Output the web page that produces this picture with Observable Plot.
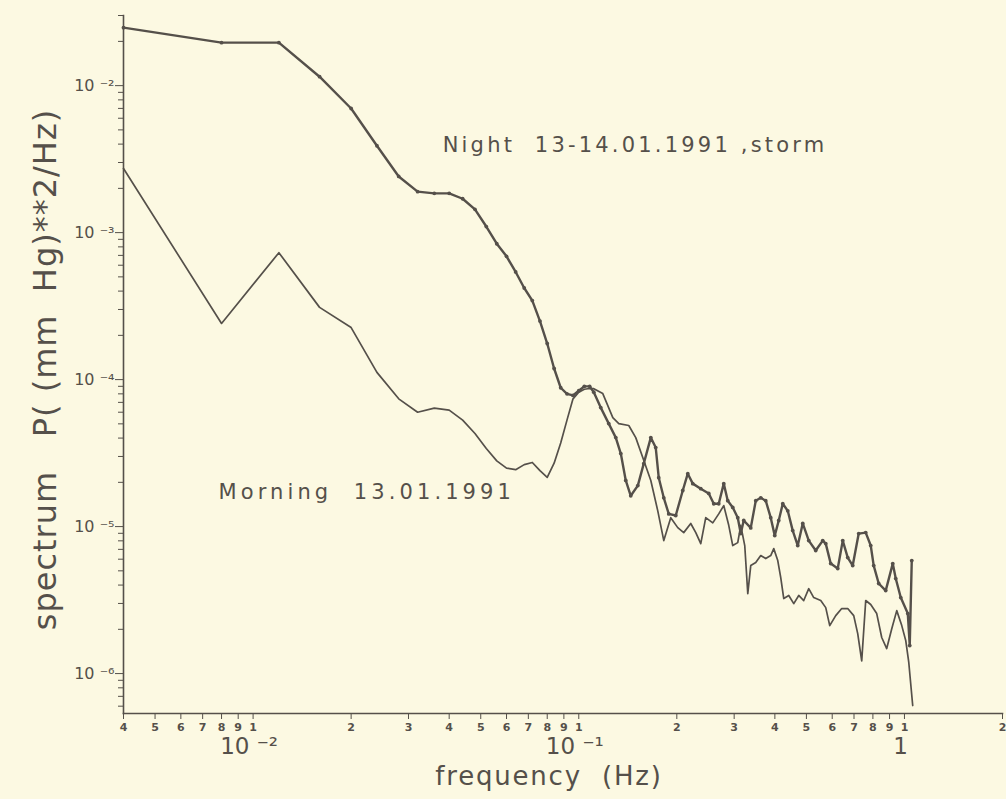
<!DOCTYPE html>
<html><head><meta charset="utf-8">
<script src="https://cdn.jsdelivr.net/npm/d3@7"></script>
<script src="https://cdn.jsdelivr.net/npm/@observablehq/plot@0.6"></script>
<style>
html,body{margin:0;padding:0;background:#fcf9e2;}
svg{display:block;}
svg text{white-space:pre;}
</style></head><body><div id="chart"></div>
<script>
// ---- data (frequency in Hz, spectrum in (mm Hg)^2/Hz) ----
const nightFreq = [
  0.004, 0.008, 0.012, 0.016, 0.020, 0.024, 0.028, 0.032, 0.036, 0.040,
  0.044, 0.048, 0.052, 0.056, 0.060, 0.064, 0.068, 0.072, 0.076, 0.080,
  0.084, 0.088, 0.092, 0.096, 0.100, 0.104, 0.108, 0.1112, 0.1168, 0.1236,
  0.1299, 0.1346, 0.1394, 0.1444, 0.1518, 0.1583, 0.1664, 0.1723, 0.1760, 0.1824,
  0.1889, 0.1985, 0.2086, 0.2161, 0.2239, 0.2369, 0.2507, 0.2597, 0.2690, 0.2787,
  0.2867, 0.2970, 0.3077, 0.3143, 0.3210, 0.3373, 0.3495, 0.3620, 0.3750, 0.3885,
  0.3997, 0.4111, 0.4230, 0.4382, 0.4539, 0.4703, 0.4872, 0.5083, 0.5340, 0.5611,
  0.5732, 0.5938, 0.6239, 0.6464, 0.6696, 0.6936, 0.7237, 0.7604, 0.7878, 0.8046,
  0.8336, 0.8759, 0.9206, 0.9403, 0.9742, 1.024, 1.038, 1.053
];
const nightPower = [
  2.48e-2, 1.96e-2, 1.96e-2, 1.15e-2, 6.99e-3, 3.9e-3, 2.41e-3, 1.9e-3, 1.85e-3, 1.85e-3,
  1.7e-3, 1.44e-3, 1.1e-3, 8.4e-4, 6.9e-4, 5.4e-4, 4.2e-4, 3.45e-4, 2.5e-4, 1.76e-4,
  1.19e-4, 8.8e-5, 8.0e-5, 7.8e-5, 8.4e-5, 9.0e-5, 9.0e-5, 8.2e-5, 6.45e-5, 5.02e-5,
  4.03e-5, 3.14e-5, 2.06e-5, 1.62e-5, 1.90e-5, 2.68e-5, 4.03e-5, 3.45e-5, 2.15e-5, 1.57e-5,
  1.22e-5, 1.19e-5, 1.76e-5, 2.29e-5, 1.96e-5, 1.81e-5, 1.68e-5, 1.43e-5, 1.43e-5, 1.96e-5,
  1.50e-5, 1.35e-5, 1.15e-5, 8.96e-6, 1.10e-5, 9.8e-6, 1.50e-5, 1.57e-5, 1.50e-5, 1.15e-5,
  8.68e-6, 1.10e-5, 1.43e-5, 1.28e-5, 9.39e-6, 7.43e-6, 1.05e-5, 8.03e-6, 6.87e-6, 8.03e-6,
  7.66e-6, 5.60e-6, 5.18e-6, 8.03e-6, 6.15e-6, 5.43e-6, 8.96e-6, 9.10e-6, 7.43e-6, 5.43e-6,
  4.10e-6, 3.67e-6, 5.60e-6, 4.43e-6, 3.29e-6, 2.56e-6, 1.55e-6, 5.87e-6
];
const morningFreq = [
  0.004, 0.008, 0.012, 0.016, 0.020, 0.024, 0.028, 0.032, 0.036, 0.040,
  0.044, 0.048, 0.052, 0.056, 0.060, 0.064, 0.068, 0.072, 0.076, 0.080,
  0.084, 0.088, 0.092, 0.096, 0.100, 0.104, 0.108, 0.1112, 0.1185, 0.1272,
  0.1327, 0.1424, 0.1496, 0.1572, 0.1664, 0.1748, 0.1824, 0.1916, 0.2013, 0.2100,
  0.2207, 0.2287, 0.2369, 0.2454, 0.2579, 0.2690, 0.2787, 0.2887, 0.2970, 0.3077,
  0.3143, 0.3233, 0.3303, 0.3373, 0.3495, 0.3620, 0.3750, 0.3885, 0.3969, 0.4083,
  0.4170, 0.4260, 0.4413, 0.4572, 0.4736, 0.4906, 0.5083, 0.5265, 0.5533, 0.5732,
  0.5896, 0.6151, 0.6418, 0.6696, 0.6986, 0.7186, 0.7392, 0.7604, 0.7878, 0.8219,
  0.8515, 0.8821, 0.9141, 0.9470, 0.9811, 1.009, 1.031, 1.060
];
const morningPower = [
  2.73e-3, 2.41e-4, 7.3e-4, 3.1e-4, 2.26e-4, 1.12e-4, 7.4e-5, 6.0e-5, 6.4e-5, 6.2e-5,
  5.3e-5, 4.3e-5, 3.4e-5, 2.8e-5, 2.5e-5, 2.44e-5, 2.64e-5, 2.73e-5, 2.4e-5, 2.16e-5,
  2.7e-5, 3.7e-5, 5.3e-5, 7.4e-5, 8.2e-5, 8.6e-5, 8.7e-5, 8.68e-5, 8.03e-5, 5.51e-5,
  5.02e-5, 4.87e-5, 4.03e-5, 2.95e-5, 2.06e-5, 1.28e-5, 8.03e-6, 1.15e-5, 9.84e-6, 9.10e-6,
  1.05e-5, 9.10e-6, 7.66e-6, 1.15e-5, 1.06e-5, 1.22e-5, 1.39e-5, 1.02e-5, 7.43e-6, 7.78e-6,
  1.02e-5, 7.43e-6, 3.50e-6, 5.43e-6, 5.69e-6, 6.35e-6, 6.06e-6, 6.35e-6, 7.08e-6, 5.87e-6,
  4.50e-6, 3.24e-6, 3.40e-6, 2.99e-6, 3.40e-6, 3.14e-6, 3.78e-6, 3.29e-6, 3.14e-6, 2.81e-6,
  2.12e-6, 2.48e-6, 2.77e-6, 2.77e-6, 2.48e-6, 1.87e-6, 1.22e-6, 3.14e-6, 2.95e-6, 2.56e-6,
  1.76e-6, 1.48e-6, 2.02e-6, 2.68e-6, 2.12e-6, 1.68e-6, 1.19e-6, 6.06e-7
];

// ---- axes / ticks ----
const xDomain = [0.004, 2];
const yDomain = [5.35e-7, 0.03];
const xTicks = [0.004,0.005,0.006,0.007,0.008,0.009,0.01,0.02,0.03,0.04,0.05,0.06,0.07,0.08,0.09,
                0.1,0.2,0.3,0.4,0.5,0.6,0.7,0.8,0.9,1,2];
const xTickLabels = ["4","5","6","7","8","9","1","2","3","4","5","6","7","8","9",
                     "1","2","3","4","5","6","7","8","9","1","2"];
const xMajorTicks = [0.01, 0.1, 1];
const xMajorLabels = ["10 \u207B\u00B2", "10 \u207B\u00B9", "1"];
const yMajorTicks = [1e-2, 1e-3, 1e-4, 1e-5, 1e-6];
const yMajorLabels = ["10 \u207B\u00B2", "10 \u207B\u00B3", "10 \u207B\u2074", "10 \u207B\u2075", "10 \u207B\u2076"];
const yMinorTicks = [3e-2,2e-2,
  9e-3,8e-3,7e-3,6e-3,5e-3,4e-3,3e-3,2e-3,
  9e-4,8e-4,7e-4,6e-4,5e-4,4e-4,3e-4,2e-4,
  9e-5,8e-5,7e-5,6e-5,5e-5,4e-5,3e-5,2e-5,
  9e-6,8e-6,7e-6,6e-6,5e-6,4e-6,3e-6,2e-6,
  9e-7,8e-7,7e-7,6e-7];
const xLabel = "frequency  (Hz)";
const yLabel = "spectrum   P( (mm  Hg)**2/Hz)";
const annotationText = ["Night  13-14.01.1991 ,storm", "Morning  13.01.1991"];
const annotationFreq = [0.0382, 0.00783];
const annotationPower = [3.9e-3, 1.7e-5];

const night = nightFreq.map((f, i) => ({f, p: nightPower[i]}));
const morning = morningFreq.map((f, i) => ({f, p: morningPower[i]}));
const ink = "#55504a";
const font = "DejaVu Sans";

const chart = Plot.plot({
  width: 1006, height: 799,
  marginLeft: 123, marginRight: 4, marginTop: 15, marginBottom: 86,
  style: {background: "transparent", fontFamily: font, color: ink},
  x: {type: "log", domain: xDomain, axis: null},
  y: {type: "log", domain: yDomain, axis: null},
  marks: [
    Plot.frame({anchor: "left", stroke: ink, strokeWidth: 1.6}),
    Plot.frame({anchor: "bottom", stroke: ink, strokeWidth: 1.6}),
    Plot.axisY({ticks: yMinorTicks, tickSize: 5, tickFormat: () => "", stroke: ink, label: null}),
    Plot.axisY({ticks: yMajorTicks, tickSize: 8, tickPadding: 1, stroke: ink, fill: ink, label: null,
      tickFormat: d => yMajorLabels[yMajorTicks.indexOf(d)], fontSize: 16, fontFamily: font}),
    Plot.axisX({ticks: xTicks, tickSize: 6, tickFormat: () => "", stroke: ink, label: null}),
    Plot.text(xTicks, {x: d => d, frameAnchor: "bottom", lineAnchor: "middle", textAnchor: "middle", dy: 14,
      text: (d, i) => xTickLabels[i], fontSize: 11, fontWeight: "bold", fill: ink, fontFamily: font}),
    Plot.text(xMajorTicks, {x: d => d, frameAnchor: "bottom", lineAnchor: "middle", textAnchor: "middle", dy: 33, dx: -4,
      text: (d, i) => xMajorLabels[i], fontSize: 23, fill: ink, fontFamily: font}),
    Plot.text([xLabel], {frameAnchor: "bottom", lineAnchor: "middle", textAnchor: "middle", dy: 63, dx: -14,
      fontSize: 26, fill: ink, fontFamily: font}),
    Plot.text([yLabel], {frameAnchor: "left", textAnchor: "middle", lineAnchor: "middle", rotate: -90, dx: -78, dy: 5,
      fontSize: 32, fill: ink, fontFamily: font}),
    Plot.line(morning, {x: "f", y: "p", stroke: ink, strokeWidth: 1.7}),
    Plot.line(night, {x: "f", y: "p", stroke: ink, strokeWidth: 2.4}),
    Plot.dot(night, {x: "f", y: "p", r: 1.9, fill: ink, stroke: null}),
    Plot.text(annotationText, {x: (d, i) => annotationFreq[i], y: (d, i) => annotationPower[i],
      text: d => d, textAnchor: "start", lineAnchor: "middle", fontSize: 21, fill: ink, fontFamily: font})
  ]
});
// widen the lettering of the annotations and axis titles as in the scanned original
d3.select(chart).selectAll("text").each(function() {
  const t = this.textContent;
  if (t.startsWith("Night")) this.setAttribute("letter-spacing", "3.2px");
  if (t.startsWith("Morning")) this.setAttribute("letter-spacing", "4.1px");
  if (t.startsWith("frequency")) this.setAttribute("letter-spacing", "1.8px");
  if (t.startsWith("spectrum")) this.setAttribute("letter-spacing", "1px");
});
document.getElementById("chart").appendChild(chart);
</script></body></html>
